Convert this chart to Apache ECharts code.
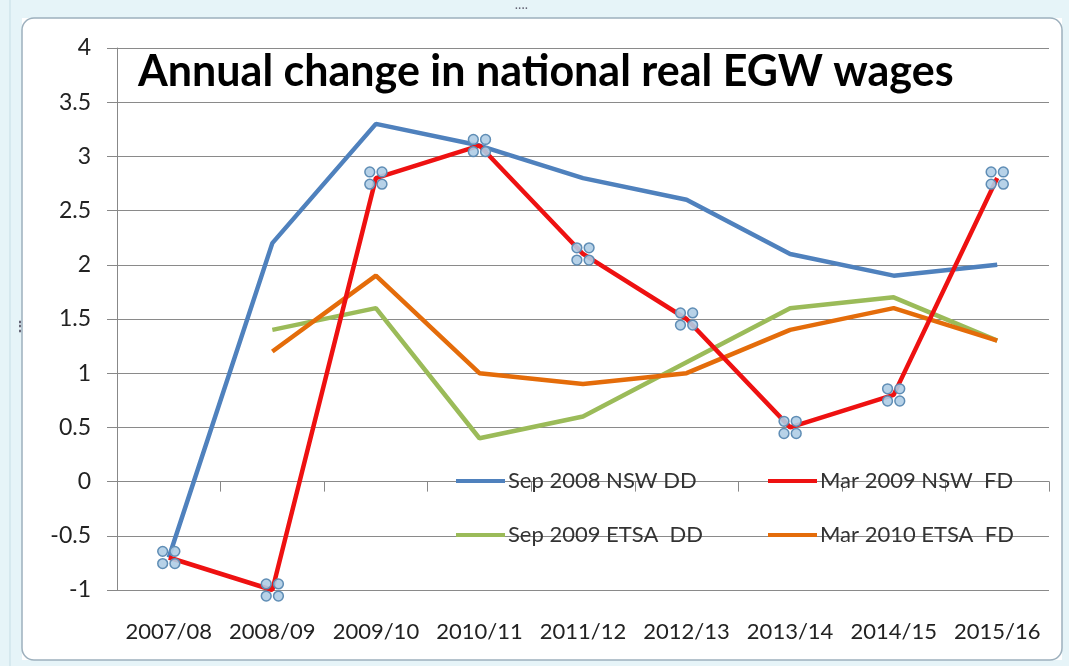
<!DOCTYPE html>
<html>
<head>
<meta charset="utf-8">
<script src="https://cdn.jsdelivr.net/npm/echarts@6/dist/echarts.min.js"></script>
<style>html,body{margin:0;padding:0;background:#fff;}#c{width:1069px;height:666px;}</style>
</head>
<body>
<div id="c"></div>
<script>
const categories = ['2007/08','2008/09','2009/10','2010/11','2011/12','2012/13','2013/14','2014/15','2015/16'];
const sep2008NswDD = [-0.7, 2.2, 3.3, 3.1, 2.8, 2.6, 2.1, 1.9, 2.0];
const mar2009NswFD = [-0.7, -1.0, 2.8, 3.1, 2.1, 1.5, 0.5, 0.8, 2.8];
const sep2009EtsaDD = [null, 1.4, 1.6, 0.4, 0.6, 1.1, 1.6, 1.7, 1.3];
const mar2010EtsaFD = [null, 1.2, 1.9, 1.0, 0.9, 1.0, 1.4, 1.6, 1.3];
const seriesNames = ['Sep 2008 NSW DD','Mar 2009 NSW  FD','Sep 2009 ETSA  DD','Mar 2010 ETSA  FD'];
const seriesColors = ['#4f81bd','#ee1111','#9bbb59','#e46c0a'];
const yTicks = [-1,-0.5,0,0.5,1,1.5,2,2.5,3,3.5,4];

const FONT = 'Lato, "Open Sans", sans-serif';
const handle = 'path://M-4,0a4,4 0 1,0 8,0a4,4 0 1,0 -8,0Z M6,0a4,4 0 1,0 8,0a4,4 0 1,0 -8,0Z M-4,10a4,4 0 1,0 8,0a4,4 0 1,0 -8,0Z M6,10a4,4 0 1,0 8,0a4,4 0 1,0 -8,0Z';

const chart = echarts.init(document.getElementById('c'), null, {renderer:'canvas'});

function legend(i, left, top){
  return {data:[{name:seriesNames[i], itemStyle:{color:seriesColors[i], borderWidth:0}}],
    left:left, top:top, icon:'rect', itemWidth:49, itemHeight:4, itemGap:0,
    textStyle:{fontFamily:FONT, fontSize:22, color:'#333', padding:[0,0,0,-2]}, selectedMode:false, padding:0};
}

chart.setOption({
  animation:false,
  backgroundColor:'#fff',
  graphic:[
    {type:'rect', shape:{x:0,y:0,width:1069,height:18}, style:{fill:'#e6f4f8'}, z:-10},
    {type:'rect', shape:{x:0,y:0,width:22,height:666}, style:{fill:'#e6f4f8'}, z:-10},
    {type:'rect', shape:{x:1062,y:0,width:7,height:666}, style:{fill:'#e6f4f8'}, z:-10},
    {type:'rect', shape:{x:0,y:660,width:1069,height:6}, style:{fill:'#e6f4f8'}, z:-10},
    {type:'rect', shape:{x:22,y:18,width:1040,height:642,r:12}, style:{fill:'#fff', stroke:'#9db0bd', lineWidth:1.5}, z:-9},
    {type:'line', shape:{x1:10,y1:0,x2:10,y2:666}, style:{stroke:'#c5dde5', lineWidth:1}, z:-9},
    {type:'text', left:515, top:4, style:{text:'····', fill:'#667', font:'bold 10px sans-serif'}, z:-8},
    {type:'text', left:13, top:320, style:{text:'⋮', fill:'#667', font:'bold 14px sans-serif'}, z:-8}
  ],
  title:{text:'Annual change in national real EGW wages', left:133, top:46,
    textStyle:{fontFamily:FONT, fontWeight:'bold', fontSize:43, color:'#000'}},
  legend:[
    legend(0, 456, 470),
    legend(1, 768, 470),
    legend(2, 456, 524),
    legend(3, 768, 524)
  ],
  grid:{left:117, right:20, top:48, bottom:76, containLabel:false},
  xAxis:{type:'category', data:categories, boundaryGap:true,
    axisLine:{lineStyle:{color:'#888', width:1}},
    axisTick:{show:true, length:10, lineStyle:{color:'#888'}},
    axisLabel:{fontFamily:FONT, fontSize:22, color:'#222', margin:31, interval:0}},
  yAxis:{type:'value', min:-1, max:4, interval:0.5,
    axisLine:{show:true, lineStyle:{color:'#888', width:1}},
    axisTick:{show:true, length:10, lineStyle:{color:'#888'}},
    splitLine:{lineStyle:{color:'#8a8a8a', width:1}},
    axisLabel:{fontFamily:FONT, fontSize:23, color:'#222', margin:26,
      formatter:function(v){return yTicks.indexOf(v)>=0 ? String(v) : '';}}},
  series:[
    {name:seriesNames[0], type:'line', data:sep2008NswDD, showSymbol:false, symbol:'none',
      lineStyle:{width:4.5, color:seriesColors[0]}, itemStyle:{color:seriesColors[0]}, z:2},
    {name:seriesNames[2], type:'line', data:sep2009EtsaDD, showSymbol:false, symbol:'none',
      lineStyle:{width:4.5, color:seriesColors[2]}, itemStyle:{color:seriesColors[2]}, z:2},
    {name:seriesNames[3], type:'line', data:mar2010EtsaFD, showSymbol:false, symbol:'none',
      lineStyle:{width:4.5, color:seriesColors[3]}, itemStyle:{color:seriesColors[3]}, z:2},
    {name:seriesNames[1], type:'line', data:mar2009NswFD, symbol:handle, symbolSize:22, showSymbol:true,
      lineStyle:{width:4.5, color:seriesColors[1]},
      itemStyle:{color:'rgba(175,205,230,0.9)', borderColor:'#5f8db5', borderWidth:1.5}, z:3}
  ]
});
</script>
</body>
</html>
